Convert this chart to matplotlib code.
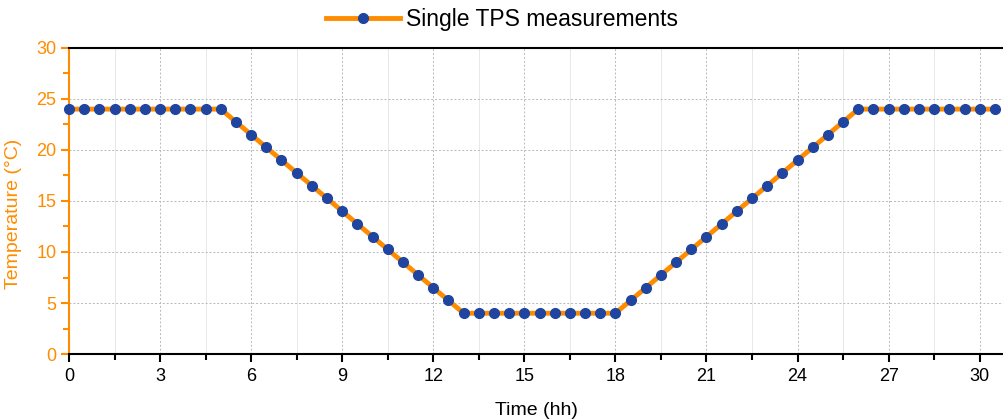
import matplotlib
matplotlib.use("Agg")
import matplotlib.pyplot as plt
from matplotlib.ticker import MultipleLocator

plt.rcParams['font.family'] = ['Liberation Sans', 'DejaVu Sans']

# ─── data: one TPS measurement every half hour ───
time_hh = [0.0, 0.5, 1.0, 1.5, 2.0, 2.5, 3.0, 3.5, 4.0, 4.5, 5.0,
           5.5, 6.0, 6.5, 7.0, 7.5, 8.0, 8.5, 9.0, 9.5, 10.0, 10.5, 11.0, 11.5, 12.0, 12.5,
           13.0, 13.5, 14.0, 14.5, 15.0, 15.5, 16.0, 16.5, 17.0, 17.5, 18.0,
           18.5, 19.0, 19.5, 20.0, 20.5, 21.0, 21.5, 22.0, 22.5, 23.0, 23.5, 24.0, 24.5, 25.0, 25.5,
           26.0, 26.5, 27.0, 27.5, 28.0, 28.5, 29.0, 29.5, 30.0, 30.5]
temperature = [24, 24, 24, 24, 24, 24, 24, 24, 24, 24, 24,
               22.75, 21.5, 20.25, 19, 17.75, 16.5, 15.25, 14, 12.75, 11.5, 10.25, 9, 7.75, 6.5, 5.25,
               4, 4, 4, 4, 4, 4, 4, 4, 4, 4, 4,
               5.25, 6.5, 7.75, 9, 10.25, 11.5, 12.75, 14, 15.25, 16.5, 17.75, 19, 20.25, 21.5, 22.75,
               24, 24, 24, 24, 24, 24, 24, 24, 24, 24]
series_label = "Single TPS measurements"

orange = '#ff8c00'
blue = '#1f45a0'

fig = plt.figure(figsize=(10.04, 4.2), dpi=100)
ax = fig.add_axes([0.0687, 0.157, 0.9313, 0.729])

ax.plot(time_hh, temperature, '-o', color=orange, lw=3.5, markersize=7,
        markerfacecolor=blue, markeredgecolor=blue, label=series_label,
        zorder=3, clip_on=False)

ax.set_xlim(0, 30.8)
ax.set_ylim(0, 30)
ax.xaxis.set_major_locator(MultipleLocator(3))
ax.xaxis.set_minor_locator(MultipleLocator(1.5))
ax.yaxis.set_major_locator(MultipleLocator(5))
ax.yaxis.set_minor_locator(MultipleLocator(2.5))

# grid: dashed major, faint solid minor verticals
ax.grid(which='major', color='#b8b8b8', ls=(0, (2, 2)), lw=0.7)
ax.grid(which='minor', axis='x', color='#e8e8e8', ls='-', lw=0.7)
ax.set_axisbelow(True)

# spines
ax.spines['right'].set_visible(False)
ax.spines['left'].set_color(orange)
ax.spines['left'].set_linewidth(1.5)
ax.spines['top'].set_color('black')
ax.spines['top'].set_linewidth(1.5)
ax.spines['bottom'].set_color('black')
ax.spines['bottom'].set_linewidth(1.5)

ax.tick_params(axis='x', which='major', direction='out', length=6, width=1.5,
               labelsize=13, colors='black', pad=4)
ax.tick_params(axis='x', which='minor', direction='out', length=4, width=1.5)
ax.tick_params(axis='y', which='major', direction='out', length=6, width=1.5,
               labelsize=13, colors=orange, pad=3)
ax.tick_params(axis='y', which='minor', direction='out', length=4, width=1.5,
               colors=orange)

ax.set_xlabel("Time (hh)", fontsize=14, labelpad=12)
ax.set_ylabel("Temperature (°C)", fontsize=14, color=orange, labelpad=8)
ax.yaxis.set_label_coords(-0.05, 0.457)

fig.legend(loc='upper center', bbox_to_anchor=(0.5, 1.03), frameon=False,
           fontsize=16.5, handlelength=3.2, handletextpad=0.25, numpoints=1)

fig.savefig("out.png", dpi=100, facecolor='white')
